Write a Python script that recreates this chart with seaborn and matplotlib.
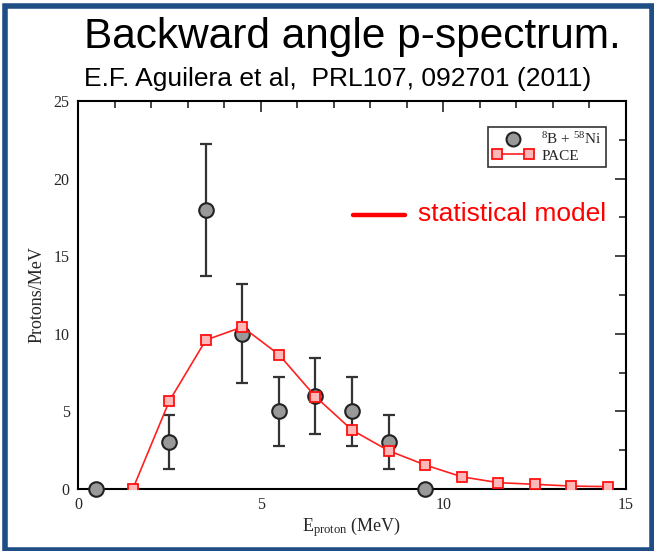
import numpy as np
import pandas as pd
import matplotlib
matplotlib.use("Agg")
import matplotlib.pyplot as plt
import seaborn as sns
from matplotlib.patches import Rectangle
from matplotlib.lines import Line2D
from matplotlib.legend_handler import HandlerLine2D
from matplotlib.ticker import MultipleLocator

# ---- data ----
exp_energy = [0.5, 2.5, 3.5, 4.5, 5.5, 6.5, 7.5, 8.5, 9.5]
exp_counts = [0.0, 3.0, 18.0, 10.0, 5.0, 6.0, 5.0, 3.0, 0.0]
exp_err = [0.0, 1.74, 4.25, 3.18, 2.2, 2.45, 2.2, 1.74, 0.0]

pace_energy = [1.5, 2.5, 3.5, 4.5, 5.5, 6.5, 7.5, 8.5, 9.5, 10.5, 11.5, 12.5, 13.5, 14.5]
pace_counts = [0.0, 5.67, 9.6, 10.44, 8.66, 5.95, 3.8, 2.47, 1.55, 0.79, 0.41, 0.3, 0.19, 0.15]

x_ticks = [0, 5, 10, 15]
y_ticks = [0, 5, 10, 15, 20, 25]

title = "Backward angle p-spectrum."
subtitle = "E.F. Aguilera et al,  PRL107, 092701 (2011)"
annot = "statistical model"
exp_label = r"$^{8}$B + $^{58}$Ni"
pace_label = "PACE"

sns.set_style("white")
plt.rcParams['font.family'] = ['Liberation Serif', 'DejaVu Serif']
plt.rcParams['mathtext.fontset'] = 'custom'
plt.rcParams['mathtext.rm'] = 'Liberation Serif'
plt.rcParams['mathtext.it'] = 'Liberation Serif:italic'

W, H = 654, 551
fig = plt.figure(figsize=(W / 100, H / 100), dpi=100)
fig.patch.set_facecolor("white")
ax = fig.add_axes([78 / W, 1 - 489 / H, (626 - 78) / W, (489 - 101) / H])

exp_df = pd.DataFrame({"E": exp_energy, "N": exp_counts, "err": exp_err})
pace_df = pd.DataFrame({"E": pace_energy, "N": pace_counts})

# experimental error bars
mask = exp_df["err"] > 0
ax.errorbar(exp_df.loc[mask, "E"], exp_df.loc[mask, "N"], yerr=exp_df.loc[mask, "err"],
            fmt="none", ecolor="#333333", elinewidth=1.6, capsize=4, capthick=1.6, zorder=3)
sns.scatterplot(data=exp_df, x="E", y="N", ax=ax, s=110, color="#999999",
                edgecolor="#222222", linewidth=1.5, zorder=4, clip_on=False)

# PACE model line (drawn over the data points)
sns.lineplot(data=pace_df, x="E", y="N", ax=ax, color="#ff2020", lw=1.2,
             marker="s", markersize=7.5, markerfacecolor="#ffb8b8",
             markeredgecolor="#ff1010", markeredgewidth=1.3, zorder=5)

ax.set_xlim(0, 15)
ax.set_ylim(0, 25)
ax.set_xticks(x_ticks)
ax.set_yticks(y_ticks)
ax.xaxis.set_minor_locator(MultipleLocator(1))
ax.yaxis.set_minor_locator(MultipleLocator(2.5))
ax.tick_params(which="both", direction="in", top=True, right=True, width=1.2,
               labelsize=11.5, pad=6)
ax.tick_params(which="major", length=8)
ax.tick_params(which="minor", length=5)
for s in ax.spines.values():
    s.set_linewidth(1.5)
    s.set_color("black")
ax.set_xlabel(r"E$_{\mathrm{proton}}$ (MeV)", fontsize=13, labelpad=1)
ax.set_ylabel("Protons/MeV", fontsize=13, labelpad=6)

# legend
h_exp = Line2D([], [], ls="none", marker="o", markersize=10, markerfacecolor="#999999",
               markeredgecolor="#222222", markeredgewidth=1.5)
h_pace = Line2D([], [], color="#ff2020", lw=1.2, marker="s", markersize=7,
                markerfacecolor="#ffb8b8", markeredgecolor="#ff1010", markeredgewidth=1.3)
leg = ax.legend([h_exp, h_pace], [exp_label, pace_label], loc="upper right",
                bbox_to_anchor=(606 / W, 1 - 127 / H), bbox_transform=fig.transFigure,
                borderaxespad=0.0,
                fontsize=11, frameon=True, fancybox=False, edgecolor="black",
                borderpad=0.3, handlelength=2.7, handletextpad=0.5, labelspacing=0.1,
                handler_map={h_exp: HandlerLine2D(numpoints=1),
                             h_pace: HandlerLine2D(numpoints=2)})
leg.get_frame().set_linewidth(1.2)

# annotation
fig.add_artist(Line2D([353 / W, 405 / W], [1 - 215 / H, 1 - 215 / H], color="#ff0000", lw=3.2))
fig.text(418 / W, 1 - 214 / H, annot, color="#ff0000", fontsize=19,
         family=["Liberation Sans", "DejaVu Sans"], va="center", ha="left")

# titles
fig.text(84 / W, 1 - 37 / H, title, fontsize=30.5, family=["Liberation Sans", "DejaVu Sans"],
         va="center", ha="left", color="black")
fig.text(84 / W, 1 - 79 / H, subtitle, fontsize=19, family=["Liberation Sans", "DejaVu Sans"],
         va="center", ha="left", color="black")

# outer blue border
fig.add_artist(Rectangle((4.5 / W, 1 - 549.5 / H), (651.5 - 4.5) / W, (549.5 - 6) / H,
                         transform=fig.transFigure, fill=False, edgecolor="#1f4e85", lw=4))

fig.savefig("out.png", dpi=100)
